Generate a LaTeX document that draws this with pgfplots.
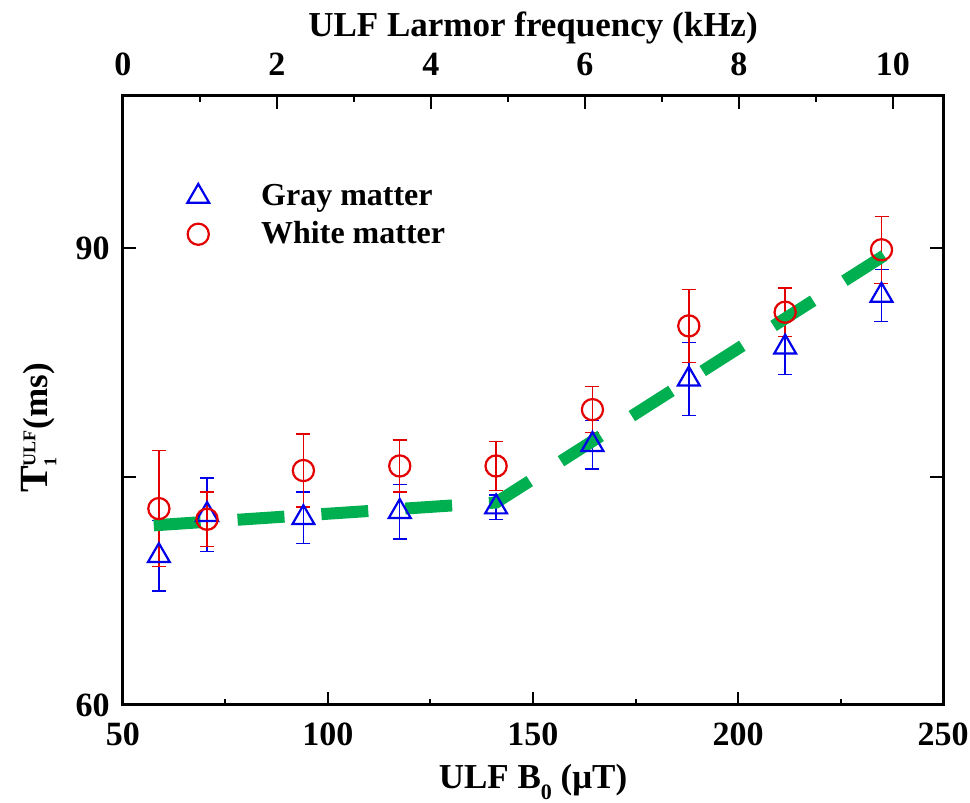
\documentclass[border=0pt]{standalone}
\usepackage{fontspec}
\setmainfont{Liberation Serif}
\usepackage{pgfplots}
\pgfplotsset{compat=1.18}
\definecolor{gm}{RGB}{0,0,235}
\definecolor{wm}{RGB}{228,0,0}
\definecolor{fitg}{RGB}{0,176,80}

\pgfplotstableread{
x y e
58.75 69.8 2.3
70.5 72.5 2.4
94 72.3 1.7
117.5 72.7 1.8
141 73.0 0.8
164.5 77.1 1.6
188 81.4 2.4
211.5 83.5 1.8
235 86.9 1.7
}\gray
\pgfplotstableread{
x y e
58.75 72.9 3.8
70.5 72.2 1.8
94 75.4 2.4
117.5 75.7 1.7
141 75.7 1.6
164.5 79.4 1.5
188 84.9 2.4
211.5 85.8 1.6
235 89.9 2.2
}\white

\begin{document}
\begin{tikzpicture}
\pgfplotsset{
  common/.style={
    scale only axis, width=410pt, height=304.5pt,
    tick align=inside,
    major tick length=6.5pt, minor tick length=3.2pt,
    every tick/.style={black, line width=1pt},
    axis line style={line width=1.5pt},
    /pgf/number format/assume math mode=true,
    ticklabel style={font=\fontsize{17}{17}\selectfont\bfseries, inner sep=0pt},
    label style={font=\fontsize{17.5}{17.5}\selectfont\bfseries},
  },
}
\begin{axis}[common,
  xmin=0, xmax=10.65, ymin=0, ymax=1,
  xtick={0,2,...,10}, minor xtick={1,3,...,9},
  ytick=\empty,
  xtick pos=top, xticklabel pos=top,
  xticklabel style={anchor=base, yshift=10pt},
  xlabel={ULF Larmor frequency (kHz)},
  xlabel style={at={(axis description cs:0.5,1.0985)}, anchor=base},
]
\end{axis}
\begin{axis}[common,
  xmin=50, xmax=250, ymin=60, ymax=100,
  xtick={50,100,...,250}, minor xtick={75,125,175,225},
  ytick={60,75,90}, yticklabels={60,,90},
  xtick pos=bottom, xticklabel pos=bottom,
  ytick pos=both, yticklabel pos=left,
  xticklabel style={anchor=base, yshift=-20pt},
  yticklabel style={anchor=east, xshift=-6.5pt},
  xlabel={ULF B\raisebox{-0.3em}{\fontsize{11}{11}\selectfont 0} (μT)},
  xlabel style={at={(axis description cs:0.5,-0.1375)}, anchor=base},
  ylabel={{\fontsize{20}{20}\selectfont T}$^{\mbox{\fontsize{9}{9}\selectfont\bfseries ULF}}_{\mbox{\fontsize{9}{9}\selectfont\bfseries 1}}$(ms)},
  ylabel style={at={(axis description cs:-0.1024,0.455)}, anchor=center},
  legend style={draw=none, fill=none, at={(axis description cs:0.078,0.862)}, anchor=north west,
    font=\fontsize{16}{16}\selectfont\bfseries, row sep=2.5pt, inner sep=0pt,
    /tikz/every odd column/.append style={column sep=24pt}},
  legend cell align=left,
]
\addplot[only marks, mark=triangle, mark size=6.3pt, color=gm, mark options={line width=1.1pt},
  error bars/.cd, y dir=both, y explicit,
  error bar style={line width=0.7pt, gm},
  error mark options={rotate=90, mark size=3.5pt, line width=0.7pt, gm}]
  table[x=x, y=y, y error=e] {\gray};
\addlegendentry{Gray matter}
\addplot[only marks, mark=o, mark size=5.3pt, color=wm, mark options={line width=1.1pt},
  error bars/.cd, y dir=both, y explicit,
  error bar style={line width=0.7pt, wm},
  error mark options={rotate=90, mark size=3.5pt, line width=0.7pt, wm}]
  table[x=x, y=y, y error=e] {\white};
\addlegendentry{White matter}
\addplot[forget plot, no markers, fitg, line width=6pt, dash pattern=on 23.5pt off 18.5pt]
  coordinates {(57.5,71.8) (141,73.3) (239,90.1)};
\end{axis}
\pgfresetboundingbox
\useasboundingbox (-61.5pt,-49pt) rectangle (423.5pt,352.5pt);
\end{tikzpicture}
\end{document}
